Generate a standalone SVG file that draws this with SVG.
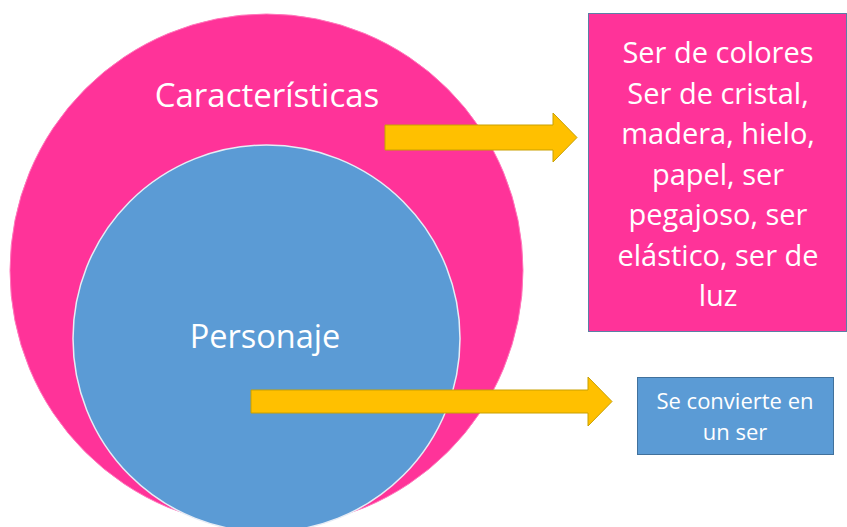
<svg xmlns="http://www.w3.org/2000/svg" width="847" height="527" viewBox="0 0 847 527">
<defs>
<style>
.t{font-family:"Open Sans","Noto Sans","Liberation Sans",sans-serif;fill:#ffffff;text-anchor:middle}
.arrow{fill:#FFC000;stroke:#C9A000;stroke-width:1}
</style>
</defs>
<rect width="847" height="527" fill="#ffffff"/>
<g id="caracteristicas">
<circle cx="266.5" cy="270.5" r="256.5" fill="#FF3399" stroke="#FF77BB" stroke-width="1"/>
<text class="t" x="267" y="107" font-size="33">Características</text>
</g>
<g id="personaje">
<circle cx="266.5" cy="338.5" r="193.5" fill="#5B9BD5" stroke="#E6ECF5" stroke-width="1.5"/>
<text class="t" x="265" y="348" font-size="32.5">Personaje</text>
</g>
<g id="lista">
<rect x="588.5" y="13.5" width="258" height="318" fill="#FF3399" stroke="#5B7FA6" stroke-width="1"/>
<g class="t" font-size="29">
<text x="718" y="63">Ser de colores</text>
<text x="718" y="104">Ser de cristal,</text>
<text x="718" y="144">madera, hielo,</text>
<text x="718" y="185">papel, ser</text>
<text x="718" y="225">pegajoso, ser</text>
<text x="718" y="266">elástico, ser de</text>
<text x="718" y="306">luz</text>
</g>
</g>
<g id="conversion">
<rect x="637.5" y="377.5" width="196" height="77" fill="#5B9BD5" stroke="#41719C" stroke-width="1"/>
<text class="t" x="735" y="409" font-size="22">Se convierte en</text>
<text class="t" x="735" y="440" font-size="22">un ser</text>
</g>
<g id="connectors">
<polygon class="arrow" points="385,125 553,125 553,113 577,137.5 553,162 553,150 385,150"/>
<polygon class="arrow" points="251,390 588,390 588,377 612,401.5 588,426 588,413 251,413"/>
</g>
</svg>
